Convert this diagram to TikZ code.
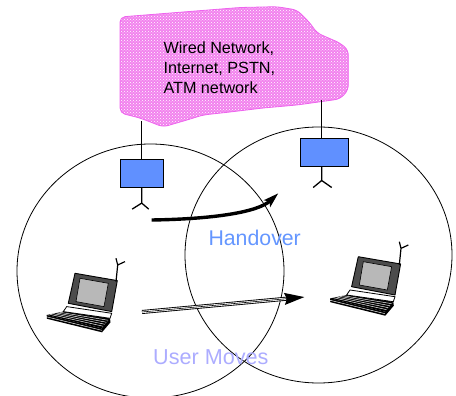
\documentclass[tikz,border=0pt]{standalone}
\usepackage{fontspec}
\setmainfont{Liberation Sans}
\usetikzlibrary{arrows.meta,calc,patterns,shapes.geometric}

\definecolor{cloudpink}{RGB}{242,130,238}
\definecolor{cloudedge}{RGB}{238,100,238}
\definecolor{bsblue}{RGB}{96,144,255}
\definecolor{handblue}{RGB}{100,150,255}
\definecolor{moveblue}{RGB}{172,172,255}

\tikzset{
  cell/.style={draw=black, line width=0.8pt, ellipse, inner sep=0pt,
    minimum width=267pt, minimum height=254pt},
  basestation/.style={draw=black, line width=0.9pt, fill=bsblue,
    minimum height=27.7pt, inner sep=0pt},
  wire/.style={line width=0.9pt},
  aerial/.style={line width=1.3pt},
  laptop/.pic={
    % keyboard top face with key rows
    \fill[black] (-11.7,38.3) -- (35,45) -- (26.7,55) -- (-28.3,41.7) -- cycle;
    \foreach \t in {0.2,0.4,0.6,0.8}
      \draw[white, line width=0.45pt]
        ($(-28.3,41.7)!\t!(-11.7,38.3)$) -- ($(26.7,55)!\t!(35,45)$);
    % front edge of the base
    \fill[black] (-28.3,41.7) -- (26.7,55) -- (27,59) -- (-28,45.5) -- cycle;
    \draw[white, line width=0.45pt] (-28.2,43.6) -- (26.8,57);
    \fill[black] (26.7,55) -- (35,45) -- (35.5,49) -- (27,59) -- cycle;
    % hinge strip
    \draw[black, fill=white, line width=0.8pt]
      (-8.3,33.3) -- (36.7,40) -- (35,45) -- (-11.7,38.3) -- cycle;
    % lid and screen
    \draw[black, fill=black!70, line width=0.9pt, line join=round]
      (0,0) -- (42.3,7.3) -- (36.7,38.3) -- (-6.7,30) -- cycle;
    \draw[black, fill=black!28, line width=0.6pt]
      (5,5) -- (33.3,10) -- (29,33.3) -- (1,28.3) -- cycle;
    % radio antenna
    \draw[black, line width=1.2pt] (41,8.3) -- (42.7,-8.3) -- (50,-11.7)
      (42.7,-8.3) -- (41,-15);
    \coordinate (-out) at (67,38.7);
    \coordinate (-in) at (-53.3,40.3);
  }
}

\begin{document}
\begin{tikzpicture}[x=1pt,y=-1pt]
\useasboundingbox (0,0) rectangle (456,396);

% radio cells
\node[cell] (cellA) at (150.5,271) {};
\node[cell, minimum height=256pt] (cellB) at (318.5,255) {};

% backbone cloud
\draw[cloudedge, line width=0.8pt, rounded corners=5pt,
      preaction={fill=cloudpink},
      pattern=crosshatch dots, pattern color=white]
  (120,113) -- (120,17) -- (187,11.7) -- (240,7.5) -- (277,6.7)
  -- (297,10) -- (310,23) -- (317,33) -- (340,43) -- (348.3,50)
  -- (348.3,90) -- (340,99) -- (297,105) -- (263,108) -- (230,112)
  -- (203,115) -- (187,120) -- (163,127) -- (153,123) -- (140,118) -- cycle;
\node[anchor=north west, inner sep=0pt, align=left,
      font=\fontsize{16.2}{19.8}\selectfont] (wired) at (163.3,41.6)
  {Wired Network,\\Internet, PSTN,\\ATM network};
\coordinate (cA) at (141.7,121);
\coordinate (cB) at (321.7,100);

% base stations
\node[basestation, minimum width=43.3pt] (bsA) at (141.7,173.8) {};
\node[basestation, minimum width=48.3pt] (bsB) at (324.2,152.2) {};
\draw[wire] (cA) -- (bsA.north);
\draw[wire] (cB) -- (cB |- bsB.north);
\draw[aerial] (bsA.south) -- ++(0,15) coordinate (aA)
  (aA) -- ++(-9.5,6) (aA) -- ++(7,6);
\draw[aerial] (cB |- bsB.south) -- ++(0,14) coordinate (aB)
  (aB) -- ++(-8.5,7) (aB) -- ++(10,7);

% mobile terminals
\pic (lapA) at (75,273.3) {laptop};
\pic (lapB) at (358.3,256.7) {laptop};

% handover arrow
\coordinate (hs) at (151.7,220);
\coordinate (he) at (278.3,193.3);
\draw[line width=3.4pt, -{Stealth[length=15pt,width=9pt,inset=3pt]}]
  (hs) .. controls (215,219) and (258,212) .. (he);

% movement arrow
\draw[line width=4pt, -{Stealth[length=20pt,width=11pt,inset=2pt]}]
  (lapA-out) -- (lapB-in);
\draw[white, line width=2.2pt, shorten >=19pt] (lapA-out) -- (lapB-in);
\draw[black, line width=0.6pt, shorten >=19pt] (lapA-out) -- (lapB-in);

% labels
\node[anchor=base west, inner sep=0pt, text=handblue,
      font=\fontsize{21.3}{25}\selectfont] (hand) at (208.3,245) {Handover};
\node[anchor=base west, inner sep=0pt, text=moveblue,
      font=\fontsize{21.6}{25}\selectfont] (moves) at (153,364) {User Moves};
\end{tikzpicture}
\end{document}
